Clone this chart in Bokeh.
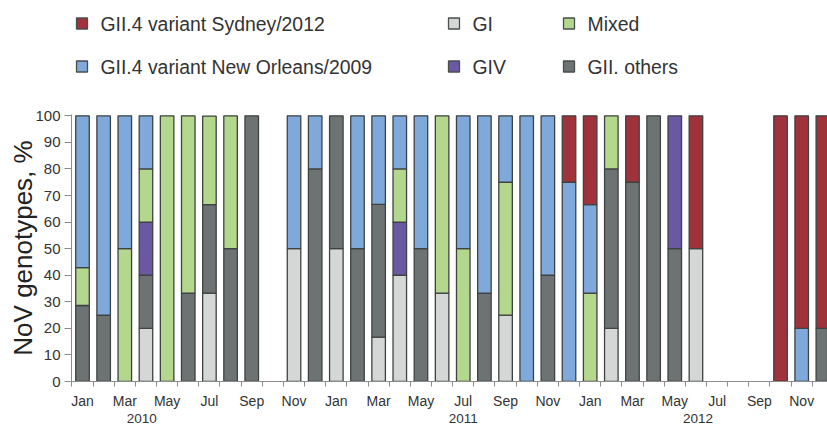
import math
from bokeh.plotting import figure
from bokeh.layouts import column
from bokeh.models import Range1d, FixedTicker, LinearAxis, ColumnDataSource
from bokeh.core.properties import value
from bokeh.embed import file_html
from bokeh.resources import INLINE

# ---------------- data ----------------
month_names = ["Jan", "Feb", "Mar", "Apr", "May", "Jun",
               "Jul", "Aug", "Sep", "Oct", "Nov", "Dec"]
months = month_names * 3          # Jan 2010 ... Dec 2012
years = ["2010", "2011", "2012"]
year_label_x = [2.8, 18.0, 29.1]   # where the year captions sit under the axis

# percentage of each genotype per month (stack order bottom -> top)
gi = [0, 0, 0, 20, 0, 0, 33.3, 0, 0, 0, 50, 0,
      50, 0, 16.7, 40, 0, 33.3, 0, 0, 25, 0, 0, 0,
      0, 20, 0, 0, 0, 50, 0, 0, 0, 0, 0, 0]
gii_others = [28.6, 25, 0, 20, 0, 33.3, 33.3, 50, 100, 0, 0, 80,
              50, 50, 50, 0, 50, 0, 0, 33.3, 0, 0, 40, 0,
              0, 60, 75, 100, 50, 0, 0, 0, 0, 0, 0, 20]
giv = [0, 0, 0, 20, 0, 0, 0, 0, 0, 0, 0, 0,
       0, 0, 0, 20, 0, 0, 0, 0, 0, 0, 0, 0,
       0, 0, 0, 0, 50, 0, 0, 0, 0, 0, 0, 0]
mixed = [14.3, 0, 50, 20, 100, 66.7, 33.3, 50, 0, 0, 0, 0,
         0, 0, 0, 20, 0, 66.7, 50, 0, 50, 0, 0, 0,
         33.3, 20, 0, 0, 0, 0, 0, 0, 0, 0, 0, 0]
new_orleans = [57.1, 75, 50, 20, 0, 0, 0, 0, 0, 0, 50, 20,
               0, 50, 33.3, 20, 50, 0, 50, 66.7, 25, 100, 60, 75,
               33.3, 0, 0, 0, 0, 0, 0, 0, 0, 0, 20, 0]
sydney = [0, 0, 0, 0, 0, 0, 0, 0, 0, 0, 0, 0,
          0, 0, 0, 0, 0, 0, 0, 0, 0, 0, 0, 25,
          33.4, 0, 25, 0, 0, 50, 0, 0, 0, 100, 80, 80]

series_names = ["GI", "GII. others", "GIV", "Mixed",
                "GII.4 variant New Orleans/2009", "GII.4 variant Sydney/2012"]
series_values = [gi, gii_others, giv, mixed, new_orleans, sydney]
series_colors = ["#d5d7d7", "#6d7373", "#6b58a3", "#b3d78d", "#7ea9da", "#a0323b"]

# legend arrangement (column by column, two rows each)
legend_grid = [["GII.4 variant Sydney/2012", "GII.4 variant New Orleans/2009"],
               ["GI", "GIV"],
               ["Mixed", "GII. others"]]

FONT = "Liberation Sans"
W = 827
FRAME_LEFT = 71

# ---------------- legend strip (pixel coordinates, y downward) ----------------
LEG_H = 100
leg = figure(width=W, height=LEG_H, output_backend="svg", toolbar_location=None,
             x_range=Range1d(FRAME_LEFT, W), y_range=Range1d(LEG_H, 0),
             min_border_left=FRAME_LEFT, min_border_right=0,
             min_border_top=0, min_border_bottom=0,
             x_axis_location=None, y_axis_location=None)
leg.grid.visible = False
leg.outline_line_color = None
leg_col_x = [76, 448, 563]
leg_row_y = [23, 66]
sq_x, sq_y, sq_c, tx_x, tx_y, tx_t = [], [], [], [], [], []
for cx, names in zip(leg_col_x, legend_grid):
    for ry, n in zip(leg_row_y, names):
        sq_x.append(cx + 5.5)
        sq_y.append(ry)
        sq_c.append(series_colors[series_names.index(n)])
        tx_x.append(cx + 24)
        tx_y.append(ry)
        tx_t.append(n)
leg.rect(x=sq_x, y=sq_y, width=11, height=11, fill_color=sq_c,
         line_color="#4a4d4d", line_width=1.3)
leg.text(x=tx_x, y=tx_y, text=tx_t, text_baseline="middle", text_align="left",
         text_font=value(FONT), text_font_size=value("19.4px"), text_color="#333333")

# ---------------- main chart ----------------
MAIN_H = 425 - LEG_H
p = figure(width=W, height=MAIN_H, output_backend="svg", toolbar_location=None,
           x_range=Range1d(-0.52, 35.22), y_range=Range1d(0, 100.5),
           min_border_left=FRAME_LEFT, min_border_top=14, min_border_right=0,
           min_border_bottom=43)
p.grid.visible = False
p.outline_line_color = None

x = list(range(len(months)))
cum = [0.0] * len(months)
for name, vals, col in zip(series_names, series_values, series_colors):
    bottoms, tops = [], []
    for i, v in enumerate(vals):
        if v > 0:
            bottoms.append(cum[i])
            tops.append(cum[i] + v)
            cum[i] += v
        else:
            bottoms.append(math.nan)
            tops.append(math.nan)
    src = ColumnDataSource(dict(x=x, bottom=bottoms, top=tops))
    p.vbar(x="x", bottom="bottom", top="top", width=0.64, source=src,
           fill_color=col, line_color="#3f4242", line_width=1.3)

axis_col = "#8c8c8c"
label_idx = list(range(0, len(months), 2))
xa = p.xaxis[0]
xa.ticker = FixedTicker(ticks=label_idx, minor_ticks=[i - 0.5 for i in range(len(months) + 1)])
xa.major_label_overrides = {i: months[i] for i in label_idx}
xa.axis_line_color = axis_col
xa.major_tick_line_color = None
xa.major_tick_out = 0
xa.major_tick_in = 0
xa.minor_tick_line_color = axis_col
xa.minor_tick_out = 5
xa.minor_tick_in = 0
xa.major_label_standoff = 6
xa.major_label_text_font = FONT
xa.major_label_text_font_size = "14px"
xa.major_label_text_color = "#333333"

# second row of x labels: the years
year_axis = LinearAxis(ticker=FixedTicker(ticks=year_label_x),
                       major_label_overrides={xp: yr for xp, yr in zip(year_label_x, years)})
year_axis.axis_line_color = None
year_axis.major_tick_line_color = None
year_axis.minor_tick_line_color = None
year_axis.major_tick_out = 0
year_axis.major_tick_in = 0
year_axis.major_label_standoff = 2
year_axis.major_label_text_font = FONT
year_axis.major_label_text_font_size = "13.5px"
year_axis.major_label_text_color = "#333333"
p.add_layout(year_axis, "below")

ya = p.yaxis[0]
ya.ticker = FixedTicker(ticks=list(range(0, 101, 10)))
ya.axis_line_color = axis_col
ya.major_tick_line_color = axis_col
ya.major_tick_out = 7
ya.major_tick_in = 0
ya.minor_tick_line_color = None
ya.major_label_standoff = 4
ya.major_label_text_font = FONT
ya.major_label_text_font_size = "15px"
ya.major_label_text_color = "#333333"
ya.axis_label = "NoV genotypes, %"
ya.axis_label_text_font = FONT
ya.axis_label_text_font_size = "26px"
ya.axis_label_text_font_style = "normal"
ya.axis_label_text_color = "#222222"
ya.axis_label_standoff = -6

layout = column(leg, p, spacing=0)
open("out.html", "w").write(file_html(layout, INLINE))
